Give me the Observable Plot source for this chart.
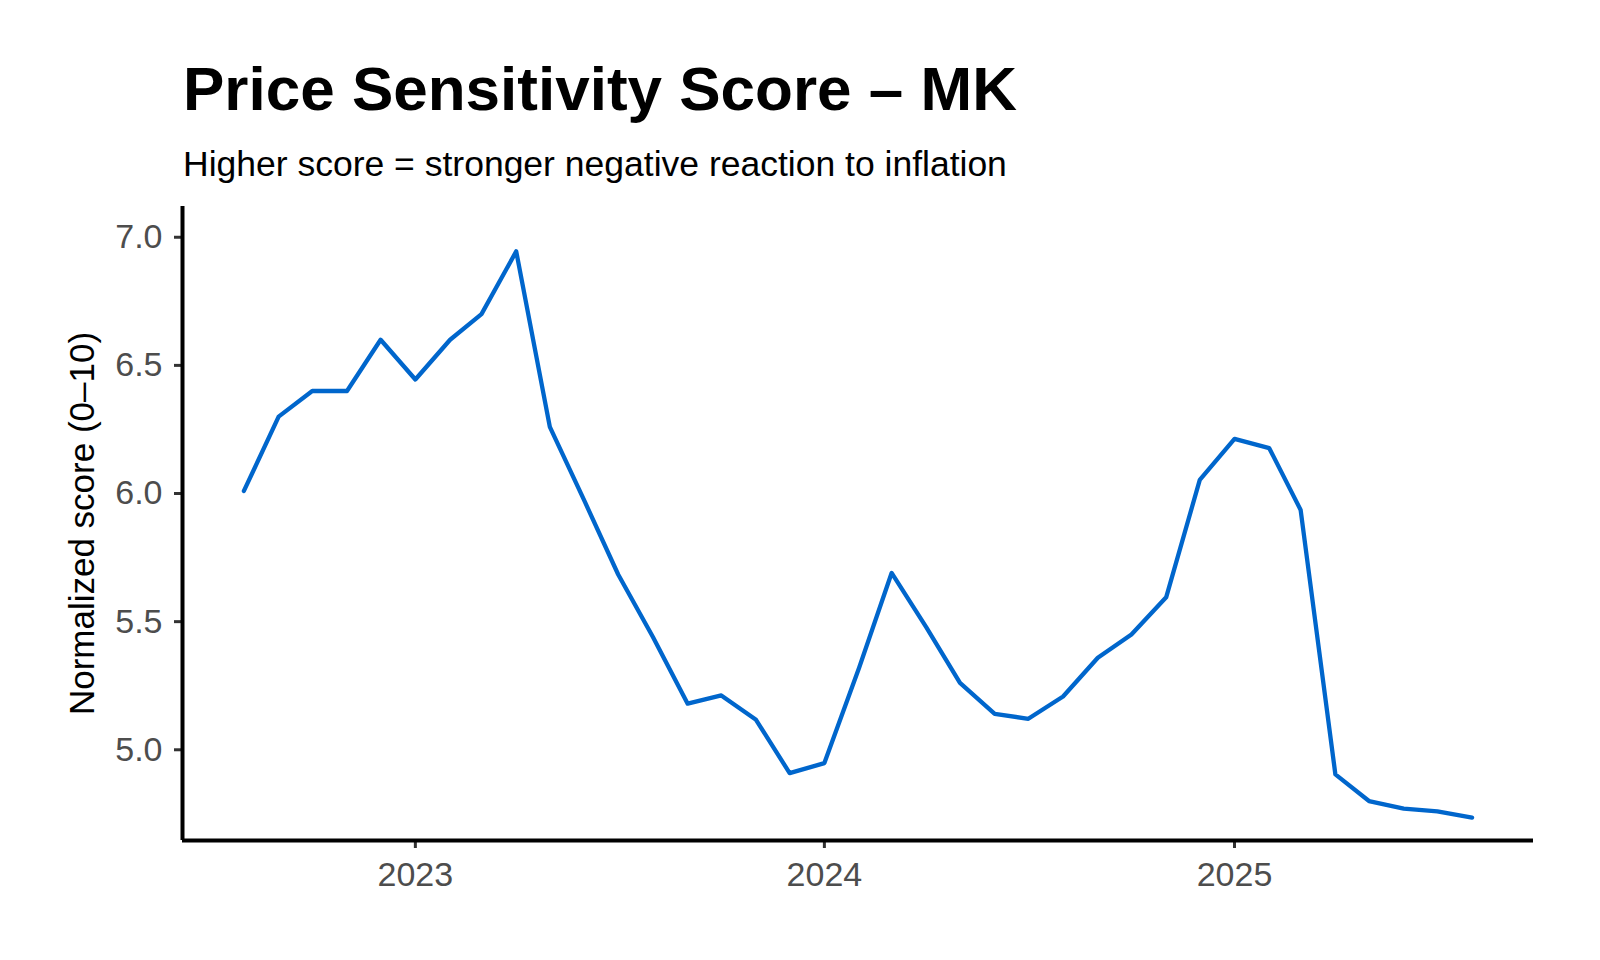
<!DOCTYPE html>
<html>
<head>
<meta charset="utf-8">
<script src="https://cdn.jsdelivr.net/npm/d3@7"></script>
<script src="https://cdn.jsdelivr.net/npm/@observablehq/plot@0.6"></script>
<style>
  html, body { margin: 0; padding: 0; background: #fff; }
  #wrap { position: relative; width: 1600px; height: 960px; font-family: "Liberation Sans", Arial, Helvetica, sans-serif; }
  #title { position: absolute; left: 183px; top: 58px; font-size: 62px; line-height: 1; font-weight: bold; color: #000; white-space: nowrap; }
  #subtitle { position: absolute; left: 183px; top: 147px; font-size: 35.5px; line-height: 1; color: #000; white-space: nowrap; }
  #chart { position: absolute; left: 0; top: 0; }
</style>
</head>
<body>
<div id="wrap">
  <div id="chart"></div>
  <div id="title"></div>
  <div id="subtitle"></div>
</div>
<script>
const titleText = "Price Sensitivity Score – MK";
const subtitleText = "Higher score = stronger negative reaction to inflation";
const yLabel = "Normalized score (0–10)";

const months = [
  "2022-08","2022-09","2022-10","2022-11","2022-12",
  "2023-01","2023-02","2023-03","2023-04","2023-05","2023-06","2023-07","2023-08","2023-09","2023-10","2023-11","2023-12",
  "2024-01","2024-02","2024-03","2024-04","2024-05","2024-06","2024-07","2024-08","2024-09","2024-10","2024-11","2024-12",
  "2025-01","2025-02","2025-03","2025-04","2025-05","2025-06","2025-07","2025-08"
];
const scores = [
  6.01, 6.30, 6.40, 6.40, 6.60,
  6.445, 6.60, 6.70, 6.945, 6.26, 5.97, 5.684, 5.44, 5.18, 5.212, 5.117, 4.909,
  4.948, 5.32, 5.69, 5.478, 5.261, 5.14, 5.121, 5.208, 5.359, 5.45, 5.595, 6.053,
  6.213, 6.177, 5.936, 4.904, 4.80, 4.77, 4.76, 4.735
];
const xTickYears = ["2023", "2024", "2025"];
const yTicks = [5.0, 5.5, 6.0, 6.5, 7.0];
const yDomain = [4.646, 7.12];

document.getElementById("title").textContent = titleText;
document.getElementById("subtitle").textContent = subtitleText;

const parse = d3.utcParse("%Y-%m");
const data = months.map((m, i) => ({date: parse(m), value: scores[i]}));
const [d0, d1] = d3.extent(data, d => d.date);
const pad = (d1 - d0) * 0.05;
const xDomain = [new Date(+d0 - pad), new Date(+d1 + pad)];
const xTicks = xTickYears.map(y => d3.utcParse("%Y")(y));

const chart = Plot.plot({
  width: 1600,
  height: 960,
  marginLeft: 182,
  marginRight: 67,
  marginTop: 206,
  marginBottom: 120,
  style: {fontFamily: "Liberation Sans, Arial, Helvetica, sans-serif", background: "#fff"},
  x: {type: "utc", domain: xDomain},
  y: {domain: yDomain},
  marks: [
    Plot.axisX({ticks: xTicks, tickFormat: d3.utcFormat("%Y"), tickSize: 8, tickPadding: 13, fontSize: 34, stroke: "#333", fill: "#4d4d4d", strokeWidth: 3, label: null}),
    Plot.axisY({ticks: yTicks, tickFormat: d3.format(".1f"), tickSize: 8, tickPadding: 12, fontSize: 34, stroke: "#333", fill: "#4d4d4d", strokeWidth: 3, label: null}),
    Plot.ruleY([yDomain[0]], {stroke: "#000", strokeWidth: 4}),
    Plot.ruleX([xDomain[0]], {stroke: "#000", strokeWidth: 4}),
    Plot.text([yLabel], {frameAnchor: "left", dx: -100, rotate: -90, fontSize: 35, fill: "#000", textAnchor: "middle"}),
    Plot.lineY(data, {x: "date", y: "value", stroke: "#0066CC", strokeWidth: 4.3, strokeLinejoin: "round"})
  ]
});
document.getElementById("chart").appendChild(chart);
</script>
</body>
</html>
